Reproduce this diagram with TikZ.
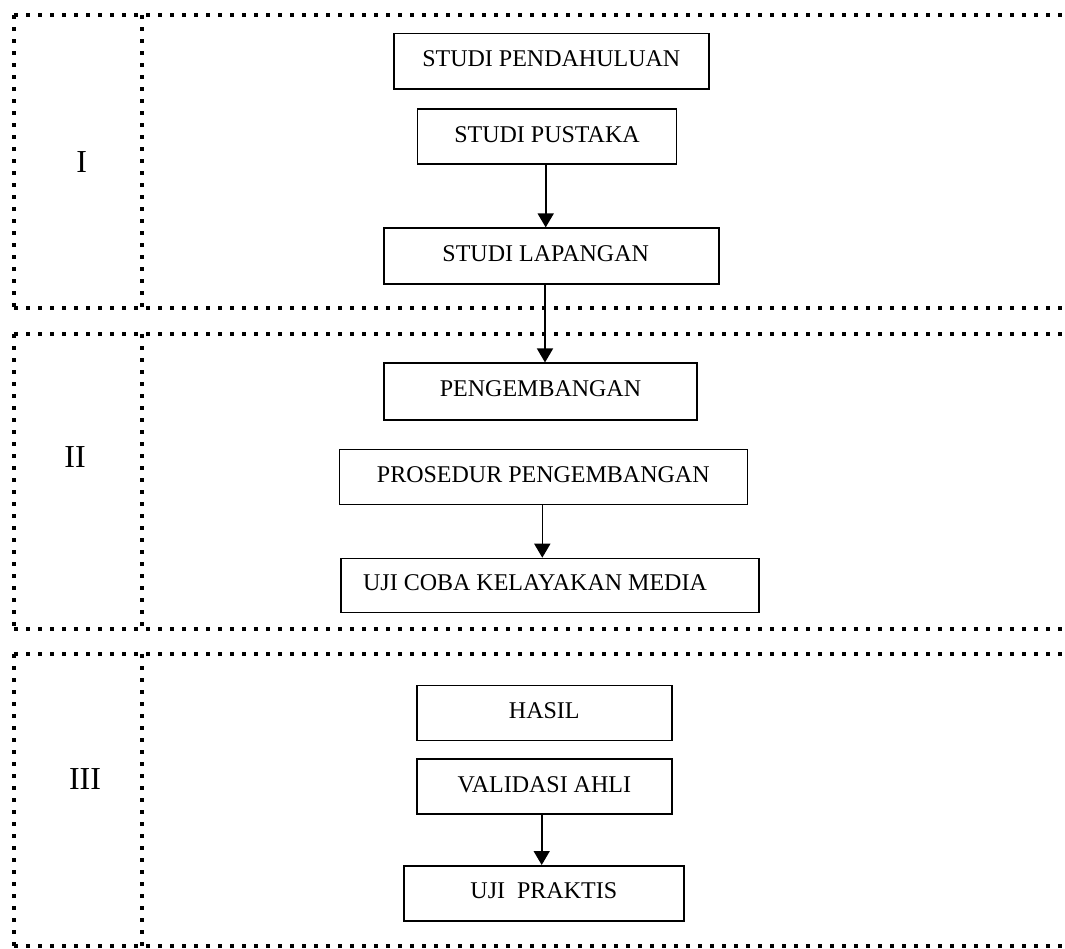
\documentclass[tikz,border=0pt]{standalone}
\usepackage{fontspec}
\setmainfont{Liberation Serif}
\usetikzlibrary{arrows.meta}
\begin{document}
\begin{tikzpicture}[x=1pt,y=-1pt,
  box/.style={draw,line width=1.6pt,inner sep=0pt,text depth=5pt,font=\fontsize{24}{28}\selectfont},
  lbl/.style={inner sep=0pt,font=\fontsize{32}{36}\selectfont},
  arr/.style={line width=1.6pt,-{Triangle[width=16pt,length=14pt]}},
  dots/.style={line width=4pt,dash pattern=on 4pt off 8pt}]
\useasboundingbox (0,0) rectangle (1065,948);
% section frames
\foreach \t/\b in {15/308,334/629,654/946}{
  \draw[dots] (14,\t) -- (1064,\t);
  \draw[dots] (14,\b) -- (1064,\b);
  \draw[dots] (14,\t) -- (14,\b);
  \draw[dots] (142,\t) -- (142,\b);
}
% labels
\node[lbl] (l1) at (81.7,162.5) {I};
\node[lbl] (l2) at (75,457) {II};
\node[lbl] (l3) at (85,779) {III};
% boxes
\node[box,minimum width=315pt,minimum height=55.5pt] (pend) at (551.3,61.4) {STUDI PENDAHULUAN};
\node[box,minimum width=259pt,minimum height=55pt] (pust) at (547,136.7) {STUDI PUSTAKA};
\node[box,minimum width=335pt,minimum height=56pt] (lap) at (551.7,256.2) {STUDI LAPANGAN\hspace*{12pt}};
\node[box,minimum width=313pt,minimum height=56.5pt] (peng) at (540.5,391.5) {PENGEMBANGAN};
\node[box,minimum width=408pt,minimum height=55pt] (pros) at (543.3,477) {PROSEDUR PENGEMBANGAN};
\node[box,minimum width=418pt,minimum height=54pt] (uji) at (550,585.5) {UJI COBA KELAYAKAN MEDIA\hspace*{30pt}};
\node[box,minimum width=255pt,minimum height=55pt] (hasil) at (544.3,713) {HASIL};
\node[box,minimum width=255pt,minimum height=55pt] (valid) at (544.3,786.7) {VALIDASI AHLI};
\node[box,minimum width=280pt,minimum height=55pt] (prak) at (543.8,893.3) {UJI\ \ PRAKTIS};
% arrows
\draw[arr] ([xshift=-1.3pt]pust.south) -- ([xshift=-1.3pt]pust.south |- lap.north);
\draw[arr] ([xshift=-6.7pt]lap.south) -- ([xshift=-6.7pt]lap.south |- peng.north);
\draw[arr] ([xshift=-1pt]pros.south) -- ([xshift=-1pt]pros.south |- uji.north);
\draw[arr] ([xshift=-2.6pt]valid.south) -- ([xshift=-2.6pt]valid.south |- prak.north);
\end{tikzpicture}
\end{document}
